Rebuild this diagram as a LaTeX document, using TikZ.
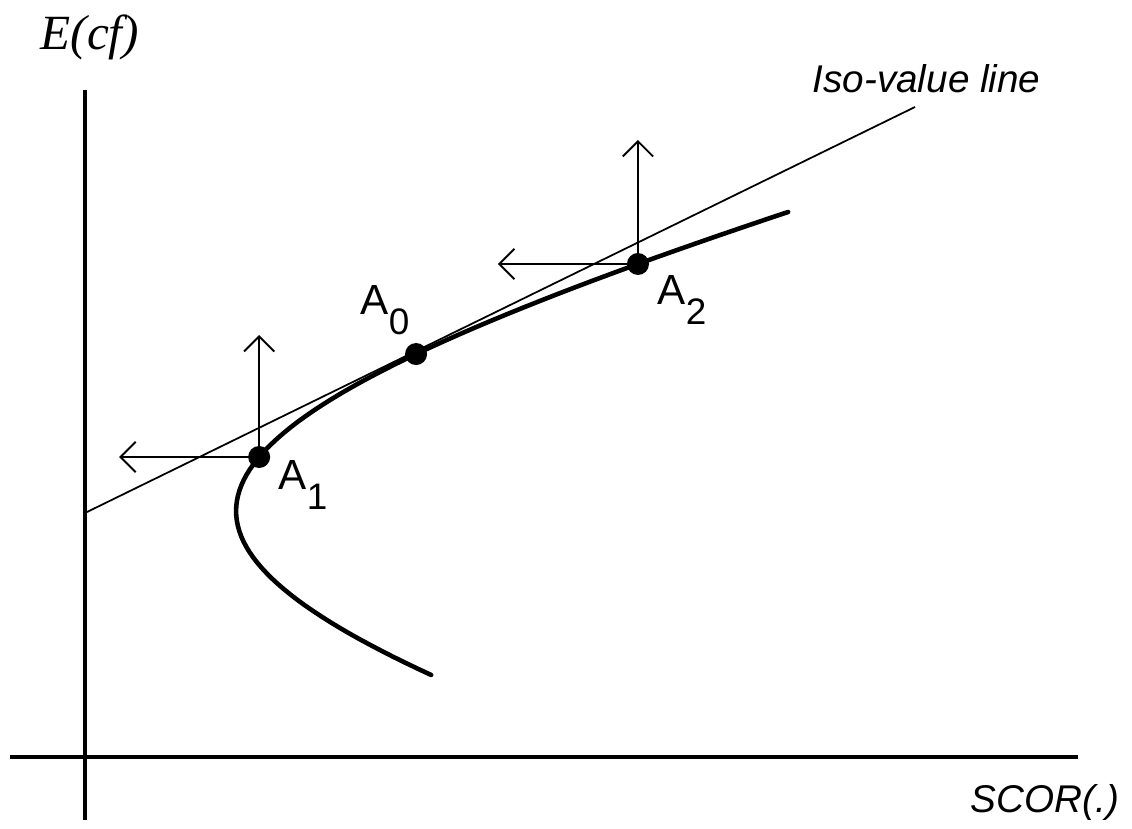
\documentclass[tikz,border=0pt]{standalone}
\usepackage{fontspec}
\setmainfont{Liberation Sans}
\newfontfamily\serifit{Liberation Serif}
\usetikzlibrary{arrows.meta, positioning}

\newcommand{\lowidx}[1]{\lower5.5pt\hbox{\fontsize{10.5}{12}\selectfont #1}}

\begin{document}
\begin{tikzpicture}[
    >={Straight Barb[length=4.3pt, width=8.6pt]},
    axis/.style={line width=1.2pt},
    frontier/.style={line width=1.3pt, line cap=round},
    isoline/.style={line width=0.5pt},
    move/.style={->, line width=0.55pt},
    dot/.style={circle, fill=black, inner sep=0pt, minimum size=0.22cm},
    ptlabel/.style={anchor=base west, inner sep=0pt, font=\fontsize{12}{14}\selectfont},
    axlabel/.style={anchor=base west, inner sep=0pt, font=\fontsize{11}{13}\selectfont\itshape},
    declare function={fx(\t)=-6.88+9.24*cosh(\t); fy(\t)=3.18-2.40*sinh(\t);}
]
\useasboundingbox (0,0) rectangle (11.32,8.29);

% ==================== Axes ====================
\coordinate (ytop) at (0.85,7.39);
\coordinate (ybot) at (0.85,0.09);
\coordinate (xleft) at (0.10,0.72);
\coordinate (xright) at (10.78,0.72);
\draw[axis] (ybot) -- (ytop);
\draw[axis] (xleft) -- (xright);

\node[anchor=base west, inner sep=0pt, font=\serifit\itshape\fontsize{14}{16}\selectfont] (ylab) at (0.40,7.79) {E(cf)};
\node[axlabel] (xlab) at (9.70,0.16) {SCOR(.)};

% ==================== Iso-value line ====================
\coordinate (iso0) at (0.85,3.16);
\coordinate (iso1) at (9.15,7.22);
\draw[isoline] (iso0) -- (iso1);
\node[axlabel] (isolab) at (8.12,7.36) {Iso-value line};

% ==================== Frontier ====================
\draw[frontier] plot[domain=-1.045:0.639, samples=80, variable=\t] ({fx(\t)},{fy(\t)});

% points on the frontier
\node[dot] (A0) at ({fx(-0.6146)},{fy(-0.6146)}) {};
\node[dot] (A1) at ({fx(-0.2232)},{fy(-0.2232)}) {};
\node[dot] (A2) at ({fx(-0.9019)},{fy(-0.9019)}) {};

\node[ptlabel] (lA0) at (3.60,5.14) {A\lowidx{0}};
\node[ptlabel] (lA1) at (2.78,3.39) {A\lowidx{1}};
\node[ptlabel] (lA2) at (6.57,5.24) {A\lowidx{2}};

% ==================== Moves ====================
\coordinate[above=1.22cm of A1.center] (A1up);
\coordinate[left=1.40cm of A1.center] (A1left);
\coordinate[above=1.24cm of A2.center] (A2up);
\coordinate[left=1.40cm of A2.center] (A2left);

\draw[move] (A1.center) -- (A1up);
\draw[move] (A1.center) -- (A1left);
\draw[move] (A2.center) -- (A2up);
\draw[move] (A2.center) -- (A2left);

\end{tikzpicture}
\end{document}
